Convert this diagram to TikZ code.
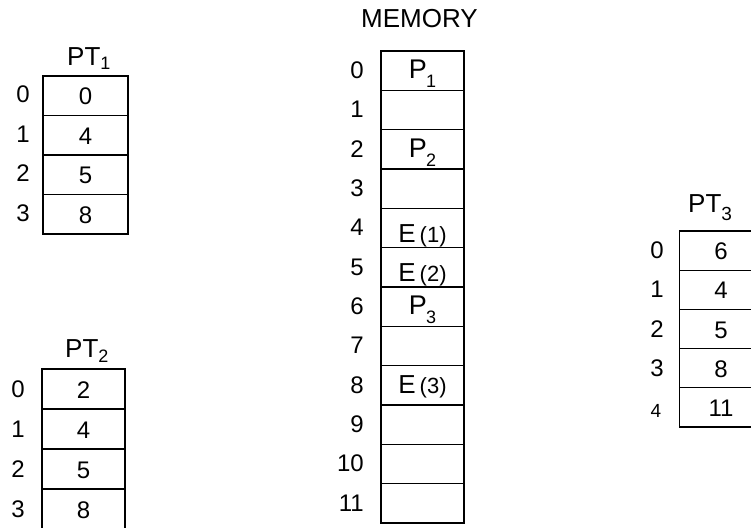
\documentclass[tikz,border=0pt]{standalone}
\usepackage{fontspec}
\setmainfont{Liberation Sans}
\newcommand{\fs}[1]{\fontsize{#1}{#1}\selectfont}
\newcommand{\Pcell}[1]{{\fs{27}P}\hspace{-1pt}\raisebox{-9pt}{\fs{18}#1}}
\newcommand{\Ecell}[1]{{\fs{26}E}\hspace{4pt}{\fs{22}(#1)}}
\begin{document}
\begin{tikzpicture}[x=1pt,y=-1pt,
  cell/.style={draw, line width=1.2pt, minimum width=83pt, minimum height=39.3pt, inner sep=0pt, outer sep=0pt},
  txt/.style={inner sep=0pt, font=\fs{24}, anchor=base},
  idx/.style={inner sep=0pt, font=\fs{24}, anchor=base},
  ttl/.style={inner sep=0pt, font=\fs{26}, anchor=base west},
]
\useasboundingbox (0,0) rectangle (751,527);

% ---------- MEMORY ----------
\node[inner sep=0pt, font=\fs{26}, anchor=base] (memt) at (419.5,28) {MEMORY};
\foreach \i in {0,...,11} {
  \node[cell] (m\i) at (422.5,{51+39.33*(\i+0.5)}) {};
  \node[idx, anchor=base east] (mi\i) at (364,{59+39.33*(\i+0.5)}) {\i};
}
\node[txt] (mt0) at ([yshift=-8pt]m0.center) {\Pcell{1}};
\node[txt] (mt2) at ([yshift=-8pt]m2.center) {\Pcell{2}};
\node[txt] (mt4) at ([yshift=-15pt]m4.center) {\Ecell{1}};
\node[txt] (mt5) at ([yshift=-14pt]m5.center) {\Ecell{2}};
\node[txt] (mt6) at ([yshift=-8pt]m6.center) {\Pcell{3}};
\node[txt] (mt8) at ([yshift=-8pt]m8.center) {\Ecell{3}};

% ---------- PT1 ----------
\node[ttl] (pt1t) at (67,65) {PT\raisebox{-4pt}{\fs{18}1}};
\foreach \i/\v in {0/0,1/4,2/5,3/8} {
  \node[cell, minimum width=85pt, minimum height=39.5pt] (a\i) at (85.5,{76+39.5*(\i+0.5)}) {};
  \node[txt] (av\i) at ([yshift=-9pt]a\i.center) {\v};
  \node[idx] (ai\i) at (23,{83+39.5*(\i+0.5)}) {\i};
}

% ---------- PT2 ----------
\node[ttl] (pt2t) at (65,357) {PT\raisebox{-5pt}{\fs{18}2}};
\foreach \i/\v in {0/2,1/4,2/5,3/8} {
  \node[cell, minimum height=40pt] (b\i) at (83.5,{369+40*(\i+0.5)}) {};
  \node[txt] (bv\i) at ([yshift=-9pt]b\i.center) {\v};
  \node[idx] (bi\i) at (18,{377+40*(\i+0.5)}) {\i};
}

% ---------- PT3 ----------
\node[ttl] (pt3t) at (688,212) {PT\raisebox{-8pt}{\fs{19}3}};
\foreach \i/\v in {0/6,1/4,2/5,3/8,4/11} {
  \node[cell, minimum height=39.2pt] (c\i) at (721,{231+39.2*(\i+0.5)}) {};
  \node[txt] (cv\i) at ([yshift=-9pt]c\i.center) {\v};
}
\foreach \i in {0,...,3} {
  \node[idx] (ci\i) at (657,{239+39.2*(\i+0.5)}) {\i};
}
\node[idx, font=\fs{19}] (ci4) at (656,{241+39.2*4.5}) {4};
\end{tikzpicture}
\end{document}
